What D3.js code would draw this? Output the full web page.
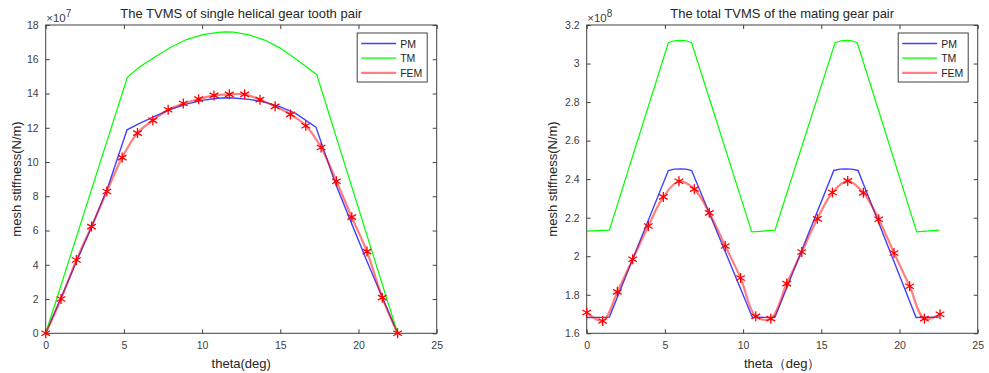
<!DOCTYPE html>
<html>
<head>
<meta charset="utf-8">
<script src="https://cdn.jsdelivr.net/npm/d3@7"></script>
<style>
  body { margin: 0; background: #fff; }
  svg { display: block; font-family: "Liberation Sans", Arial, sans-serif; }
  .tick text { fill: #404040; font-size: 10.5px; }
  .tick line { stroke: #404040; }
</style>
</head>
<body>
<script>
// ---- data (y values in units of the x10^n factor) ----

// left panel: single helical gear tooth pair (x10^7 N/m)
var femThetaL = [0, 0.98, 1.96, 2.93, 3.91, 4.89, 5.87, 6.85, 7.83, 8.8, 9.78, 10.76,
                 11.74, 12.72, 13.7, 14.67, 15.65, 16.63, 17.61, 18.59, 19.57, 20.54, 21.52, 22.5];
var femL = [0, 2.0, 4.28, 6.23, 8.28, 10.26, 11.69, 12.43, 13.05, 13.42, 13.67, 13.89,
            13.95, 13.95, 13.64, 13.25, 12.78, 12.12, 10.85, 8.88, 6.78, 4.77, 2.08, 0];

var pmThetaL = [0, 1, 2, 3, 4, 5.2, 6, 7, 8, 9, 10, 11, 11.5, 12, 13, 14, 15, 16, 17.28,
                18.5, 19.5, 20.5, 21.5, 22.5];
var pmL = [0, 2.12, 4.25, 6.35, 8.6, 11.88, 12.25, 12.68, 13.08, 13.38, 13.6, 13.72, 13.75,
           13.74, 13.66, 13.5, 13.22, 12.82, 12.04, 8.8, 6.55, 4.3, 2.15, 0];

var tmThetaL = [0, 5.22, 6, 7, 8, 9, 10, 11, 11.5, 12, 13, 14, 15, 16, 17.33, 22.5];
var tmL = [0, 14.95, 15.55, 16.15, 16.7, 17.15, 17.42, 17.57, 17.6, 17.58, 17.42, 17.12,
           16.65, 16.02, 15.1, 0];

// right panel: total TVMS of the mating gear pair (x10^8 N/m)
var femThetaR = [0, 1.02, 1.96, 2.94, 3.94, 4.9, 5.9, 6.88, 7.84, 8.86, 9.84, 10.81,
                 11.77, 12.79, 13.75, 14.75, 15.71, 16.69, 17.69, 18.67, 19.65, 20.65, 21.59, 22.59];
var femR = [1.708, 1.664, 1.815, 1.984, 2.157, 2.308, 2.389, 2.348, 2.225, 2.053, 1.887, 1.688,
            1.676, 1.858, 2.022, 2.194, 2.331, 2.391, 2.329, 2.192, 2.017, 1.844, 1.676, 1.699];

var pmThetaR = [0, 1.45, 5.22, 5.6, 6.0, 6.35, 6.71, 10.6, 12.04, 15.8, 16.2, 16.55, 16.95,
                17.35, 21.06, 22.55];
var pmR = [1.682, 1.684, 2.445, 2.452, 2.453, 2.452, 2.445, 1.682, 1.684, 2.445, 2.452, 2.453,
           2.452, 2.445, 1.682, 1.684];

var tmThetaR = [0, 1.45, 5.22, 5.6, 6.0, 6.35, 6.71, 10.55, 12.04, 15.88, 16.25, 16.6, 16.95,
                17.3, 21.1, 22.55];
var tmR = [2.13, 2.135, 3.108, 3.118, 3.12, 3.118, 3.108, 2.126, 2.135, 3.108, 3.118, 3.12,
           3.118, 3.108, 2.126, 2.135];

var legendNames = ["PM", "TM", "FEM"];
var xTicks = [0, 5, 10, 15, 20, 25];
var yTicksL = [0, 2, 4, 6, 8, 10, 12, 14, 16, 18];
var yTicksR = [1.6, 1.8, 2, 2.2, 2.4, 2.6, 2.8, 3, 3.2];

var W = 989, H = 373;
var svg = d3.select("body").append("svg").attr("width", W).attr("height", H);

function zip(xs, ys) {
  return xs.map(function(x, i) { return [x, ys[i]]; });
}

function panel(o) {
  var x = d3.scaleLinear().domain([0, 25]).range([o.left, o.right]);
  var y = d3.scaleLinear().domain(o.yDomain).range([333.3, 25]);
  var g = svg.append("g");

  // axes, ticks pointing inward on all four sides
  g.append("g").attr("transform", "translate(0,333.3)")
    .call(d3.axisBottom(x).tickValues(xTicks).tickSizeInner(-4).tickSizeOuter(0).tickPadding(8));
  g.append("g").attr("transform", "translate(0,25)")
    .call(d3.axisTop(x).tickValues(xTicks).tickSizeInner(-4).tickSizeOuter(0).tickFormat(""));
  g.append("g").attr("transform", "translate(" + o.left + ",0)")
    .call(d3.axisLeft(y).tickValues(o.yTicks).tickSizeInner(-4).tickSizeOuter(0).tickPadding(7)
      .tickFormat(function(d) { return +d.toFixed(1); }));
  g.append("g").attr("transform", "translate(" + o.right + ",0)")
    .call(d3.axisRight(y).tickValues(o.yTicks).tickSizeInner(-4).tickSizeOuter(0).tickFormat(""));
  g.selectAll(".domain").remove();

  g.append("rect")
    .attr("x", o.left).attr("y", 25)
    .attr("width", o.right - o.left).attr("height", 333.3 - 25)
    .attr("fill", "none").attr("stroke", "#404040").attr("stroke-width", 1);

  var line = d3.line().x(function(d) { return x(d[0]); }).y(function(d) { return y(d[1]); });
  var smooth = d3.line().curve(d3.curveCatmullRom.alpha(0.5))
    .x(function(d) { return x(d[0]); }).y(function(d) { return y(d[1]); });

  g.append("path").datum(zip(o.pmX, o.pm))
    .attr("d", line).attr("fill", "none")
    .attr("stroke", "#0000ff").attr("stroke-width", 1.4).attr("stroke-opacity", 0.75);
  g.append("path").datum(zip(o.tmX, o.tm))
    .attr("d", line).attr("fill", "none")
    .attr("stroke", "#00ff00").attr("stroke-width", 1.2);
  g.append("path").datum(zip(o.femX, o.fem))
    .attr("d", smooth).attr("fill", "none")
    .attr("stroke", "#ff0000").attr("stroke-width", 2.2).attr("stroke-opacity", 0.5);

  var star = d3.symbol().type(d3.symbolAsterisk).size(70);
  g.selectAll(".mk").data(zip(o.femX, o.fem)).enter().append("path")
    .attr("class", "mk")
    .attr("transform", function(d) { return "translate(" + x(d[0]) + "," + y(d[1]) + ")"; })
    .attr("d", star).attr("fill", "none").attr("stroke", "#ff0000").attr("stroke-width", 1.3);

  // title, exponent, axis labels
  var cx = (o.left + o.right) / 2;
  g.append("text").attr("x", cx).attr("y", 17.5).attr("text-anchor", "middle")
    .attr("font-size", 13).attr("fill", "#262626").text(o.title);

  var ex = g.append("text").attr("x", o.left + 0.5).attr("y", 21.5)
    .attr("font-size", 11.5).attr("fill", "#404040");
  ex.append("tspan").text("\u00d710");
  ex.append("tspan").attr("dy", -5).attr("font-size", 10).text(o.exp);

  g.append("text").attr("x", cx).attr("y", 368).attr("text-anchor", "middle")
    .attr("font-size", 13).attr("fill", "#262626").text(o.xLabel);

  g.append("text")
    .attr("transform", "translate(" + o.yLabelX + ",179) rotate(-90)")
    .attr("text-anchor", "middle").attr("font-size", 13).attr("fill", "#262626")
    .text("mesh stiffness(N/m)");

  // legend
  var lg = g.append("g").attr("transform", "translate(" + (o.right - 79.5) + ",33)");
  lg.append("rect").attr("width", 70).attr("height", 49)
    .attr("fill", "#fff").attr("stroke", "#404040").attr("stroke-width", 1);
  var colors = ["#0000ff", "#00ff00", "#ff0000"];
  var widths = [1.4, 1.2, 2.2];
  var ops = [0.75, 1, 0.5];
  legendNames.forEach(function(n, i) {
    var yy = 10.5 + i * 14.7;
    lg.append("line").attr("x1", 4).attr("x2", 39).attr("y1", yy).attr("y2", yy)
      .attr("stroke", colors[i]).attr("stroke-width", widths[i]).attr("stroke-opacity", ops[i]);
    lg.append("text").attr("x", 43).attr("y", yy + 4).attr("font-size", 10.5)
      .attr("fill", "#262626").text(n);
  });
}

panel({
  left: 45.7, right: 436.7, yDomain: [0, 18], yTicks: yTicksL,
  femX: femThetaL, fem: femL, pmX: pmThetaL, pm: pmL, tmX: tmThetaL, tm: tmL,
  title: "The TVMS of single helical gear tooth pair", exp: "7",
  xLabel: "theta(deg)", yLabelX: 20.5
});

panel({
  left: 586.7, right: 977.7, yDomain: [1.6, 3.2], yTicks: yTicksR,
  femX: femThetaR, fem: femR, pmX: pmThetaR, pm: pmR, tmX: tmThetaR, tm: tmR,
  title: "The total TVMS of the mating gear pair", exp: "8",
  xLabel: "theta\uff08deg\uff09", yLabelX: 557.3
});
</script>
</body>
</html>
